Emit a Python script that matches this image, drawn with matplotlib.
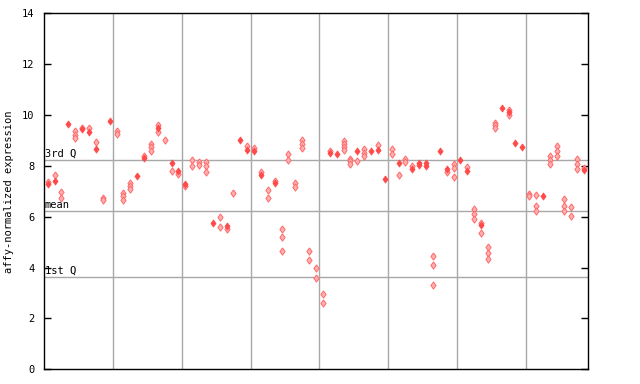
import matplotlib
matplotlib.use("Agg")
import matplotlib.pyplot as plt

# ---- data ----
n_samples = 79
solid_idx = [0, 1, 3, 5, 6, 7, 9, 13, 14, 16, 18, 19, 20, 24, 26, 28, 29, 30, 31, 33,
             41, 42, 45, 47, 48, 49, 51, 53, 54, 54, 55, 55, 57, 58, 60, 61, 63, 66, 67,
             68, 69, 72, 78]
solid_val = [7.28, 7.40, 9.63, 9.45, 9.33, 8.68, 9.78, 7.59, 8.30, 9.47, 8.11, 7.78, 7.30,
             5.77, 5.65, 9.03, 8.64, 8.57, 7.65, 7.31,
             8.50, 8.45, 8.57, 8.57, 8.61, 7.50, 8.10, 7.89, 8.11, 8.02, 8.11, 7.98,
             8.58, 7.89, 8.24, 7.79, 5.66, 10.28, 10.12,
             8.90, 8.74, 6.80, 7.82]
hatch_idx = [0, 1, 2, 2, 4, 4, 4, 5, 6, 7, 8, 8, 10, 10, 11, 11, 11, 12, 12, 12,
             14, 15, 15, 15, 16, 16, 17, 18, 19, 20, 21, 21, 22, 22, 23, 23, 23,
             25, 25, 26, 27, 29, 30, 31, 32, 32, 33, 34, 34, 34, 35, 35, 36, 36,
             37, 37, 37, 38, 38, 39, 39, 40, 40, 41, 43, 43, 43, 43, 44, 44, 44,
             45, 46, 46, 46, 48, 50, 50, 51, 52, 52, 53, 56, 56, 56, 58, 59, 59, 59,
             61, 62, 62, 62, 63, 63, 64, 64, 64, 65, 65, 65, 67, 67, 70, 70,
             71, 71, 71, 73, 73, 73, 74, 74, 74, 75, 75, 75, 76, 76, 77, 77, 77, 78]
hatch_val = [7.38, 7.65, 6.99, 6.73, 9.36, 9.23, 9.10, 9.50, 9.49, 8.94, 6.73, 6.64,
             9.36, 9.27, 6.93, 6.80, 6.67, 7.32, 7.20, 7.10,
             8.40, 8.86, 8.73, 8.60, 9.62, 9.35, 9.03, 7.81, 7.68, 7.22, 8.23, 7.98,
             8.17, 8.05, 8.17, 8.00, 7.75,
             6.00, 5.60, 5.52, 6.93, 8.77, 8.70, 7.76, 7.04, 6.73, 7.39, 5.51, 5.19, 4.64,
             8.48, 8.23, 7.32, 7.15,
             9.03, 8.87, 8.70, 4.64, 4.29, 3.97, 3.61, 2.98, 2.59, 8.60, 8.99, 8.87, 8.75,
             8.64, 8.28, 8.18, 8.07,
             8.20, 8.66, 8.50, 8.37, 8.83, 8.66, 8.48, 7.64, 8.28, 8.14, 7.98, 4.44, 4.09,
             3.30, 7.74, 8.06, 7.90, 7.56,
             7.95, 6.30, 6.10, 5.90, 5.76, 5.35, 4.80, 4.56, 4.32, 9.69, 9.59, 9.49,
             10.21, 10.02, 6.90, 6.80,
             6.85, 6.44, 6.24, 8.40, 8.23, 8.06, 8.80, 8.60, 8.40, 6.69, 6.43, 6.24,
             6.37, 6.03, 8.27, 8.07, 7.87, 7.90]
ref_labels = ["3rd Q", "mean", "1st Q"]
ref_values = [8.23, 6.22, 3.63]
y_ticks = [0, 2, 4, 6, 8, 10, 12, 14]
group_bounds = [10, 20, 30, 40, 50, 60, 70]

# ---- figure ----
W, H = 640, 384
fig = plt.figure(figsize=(W / 100, H / 100), dpi=100)
ax = fig.add_axes([44.3 / W, (H - 369.3) / H, (587.7 - 44.3) / W, (369.3 - 13.3) / H])
ax.set_xlim(0, n_samples)
ax.set_ylim(0, 14)

grey = "#a8a8a8"
for gx in group_bounds:
    ax.axvline(gx, color=grey, lw=1.0, zorder=1)
for lab, v in zip(ref_labels, ref_values):
    ax.axhline(v, color=grey, lw=1.0, zorder=1)
    ax.text(0.1, v + 0.04, lab, fontsize=7.5, family="DejaVu Sans Mono",
            ha="left", va="bottom", color="black", zorder=2)

diamond = [(0, 1), (0.72, 0), (0, -1), (-0.72, 0), (0, 1)]
ax.plot([i + 0.5 for i in hatch_idx], hatch_val, linestyle="none", marker=diamond,
        markersize=5.2, markerfacecolor="#ffb0b0", markeredgecolor="#ff6a6a",
        markeredgewidth=0.7, zorder=3)
ax.plot([i + 0.5 for i in solid_idx], solid_val, linestyle="none", marker=diamond,
        markersize=5.2, markerfacecolor="#ff4a4a", markeredgecolor="#ff4a4a",
        markeredgewidth=0.5, zorder=4)

ax.set_xticks([])
ax.set_yticks(y_ticks)
ax.set_yticklabels([str(t) for t in y_ticks], family="DejaVu Sans Mono", fontsize=7.5)
ax.tick_params(axis="y", direction="in", length=5, width=1, right=True, pad=7)
for s in ax.spines.values():
    s.set_color("black")
    s.set_linewidth(1.0)
ax.set_ylabel("affy-normalized expression", family="DejaVu Sans Mono", fontsize=7.5,
              labelpad=6)

fig.savefig("out.png", dpi=100)
